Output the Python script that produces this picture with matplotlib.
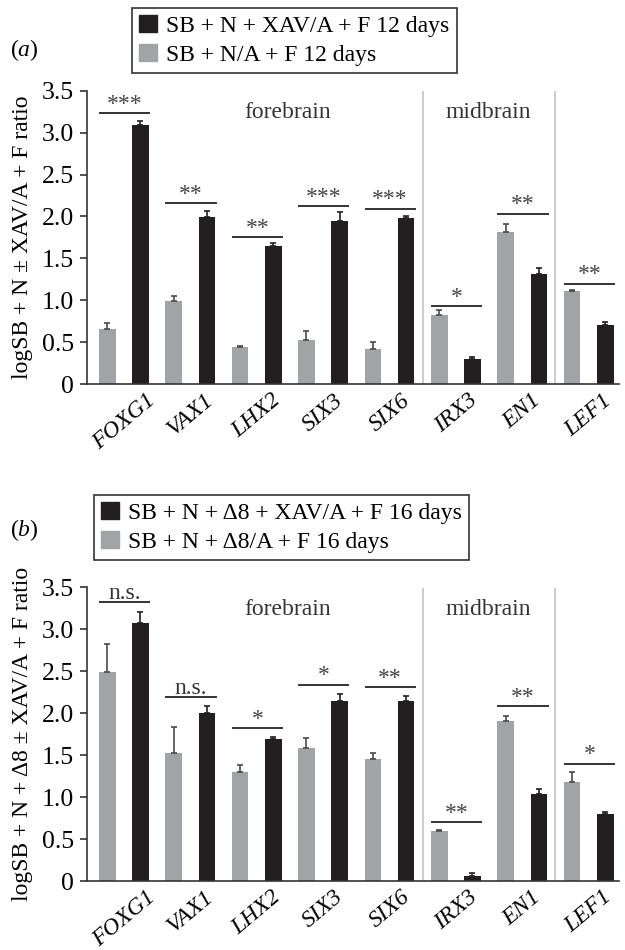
import numpy as np
import matplotlib
matplotlib.use("Agg")
from matplotlib import pyplot as plt
from matplotlib.patches import Patch

plt.rcParams["font.family"] = ["Liberation Serif", "DejaVu Serif"]
plt.rcParams["mathtext.fontset"] = "custom"
plt.rcParams["mathtext.rm"] = "Liberation Serif"
plt.rcParams["mathtext.it"] = "Liberation Serif:italic"
plt.rcParams["font.size"] = 17

# genes on the x axis
genes = ["FOXG1", "VAX1", "LHX2", "SIX3", "SIX6", "IRX3", "EN1", "LEF1"]

# panel (a): 12 days
a_grey = [0.66, 0.99, 0.45, 0.53, 0.42, 0.82, 1.82, 1.11]
a_grey_err = [0.07, 0.06, 0.01, 0.10, 0.08, 0.06, 0.09, 0.015]
a_black = [3.09, 1.99, 1.65, 1.95, 1.98, 0.30, 1.31, 0.71]
a_black_err = [0.05, 0.08, 0.03, 0.10, 0.02, 0.02, 0.07, 0.03]
a_sig = ["***", "**", "**", "***", "***", "*", "**", "**"]
a_sig_y = [3.23, 2.16, 1.75, 2.12, 2.09, 0.93, 2.03, 1.20]

# panel (b): 16 days
b_grey = [2.49, 1.53, 1.30, 1.58, 1.45, 0.60, 1.91, 1.18]
b_grey_err = [0.33, 0.31, 0.08, 0.12, 0.07, 0.005, 0.06, 0.12]
b_black = [3.07, 2.00, 1.69, 2.15, 2.15, 0.06, 1.04, 0.80]
b_black_err = [0.14, 0.08, 0.03, 0.08, 0.06, 0.04, 0.06, 0.02]
b_sig = ["n.s.", "n.s.", "*", "*", "**", "**", "**", "*"]
b_sig_y = [3.32, 2.19, 1.82, 2.34, 2.31, 0.70, 2.085, 1.40]

yticks = [0, 0.5, 1.0, 1.5, 2.0, 2.5, 3.0, 3.5]
ytick_labels = ["0", "0.5", "1.0", "1.5", "2.0", "2.5", "3.0", "3.5"]

GREY = "#a1a4a6"
BLACK = "#231f20"
DARK = "#333333"


def panel(ax, grey, grey_err, black, black_err, sig, sig_y, ylabel):
    x = np.arange(len(genes))
    n = len(genes)
    ax.bar(x - 0.25, grey, width=0.25, color=GREY, zorder=2)
    ax.bar(x + 0.25, black, width=0.25, color=BLACK, zorder=2)
    ax.errorbar(x - 0.25, grey, yerr=[np.zeros(n), grey_err], fmt="none",
                ecolor="#4a4a4a", elinewidth=1.2, capsize=2.5, capthick=1.2, zorder=3)
    ax.errorbar(x + 0.25, black, yerr=[np.zeros(n), black_err], fmt="none",
                ecolor=BLACK, elinewidth=1.2, capsize=2.5, capthick=1.2, zorder=3)

    # significance marks
    for i in range(n):
        ax.plot([x[i] - 0.36, x[i] + 0.38], [sig_y[i], sig_y[i]], color=DARK, lw=1.4)
        if sig[i] == "n.s.":
            ax.annotate(sig[i], (x[i] + 0.01, sig_y[i]), xytext=(0, 3),
                        textcoords="offset pixels", ha="center", va="baseline",
                        color=DARK)
        else:
            ax.annotate(sig[i], (x[i] + 0.01, sig_y[i]), xytext=(0, 9),
                        textcoords="offset pixels", ha="center", va="center",
                        color="#444444")

    # region dividers
    ax.vlines([4.5, 6.5], 0, 3.49, color="#c8c8c8", lw=1.3, zorder=1)
    ax.text(2.47, 3.24, "forebrain", ha="center", va="center", color=DARK)
    ax.text(5.48, 3.24, "midbrain", ha="center", va="center", color=DARK)

    ax.set_xlim(-0.56, 7.45)
    ax.set_ylim(0, 3.5)
    ax.set_yticks(yticks)
    ax.set_yticklabels(ytick_labels)
    ax.set_xticks(x)
    ax.set_xticklabels(genes, rotation=40, ha="center", va="top", style="italic")
    ax.tick_params(axis="x", length=0, pad=4)
    ax.tick_params(axis="y", length=5, width=1.2, color=DARK, pad=4, labelsize=18.5)
    for s in ["top", "right"]:
        ax.spines[s].set_visible(False)
    for s in ["left", "bottom"]:
        ax.spines[s].set_color(DARK)
        ax.spines[s].set_linewidth(1.2)
    ax.set_ylabel(ylabel)
    ax.yaxis.set_label_coords(-0.1, 0.5)


fig = plt.figure(figsize=(6.25, 9.5), dpi=100)
ax1 = fig.add_axes([0.1387, 0.5955, 0.851, 0.3091])
ax2 = fig.add_axes([0.1387, 0.0726, 0.851, 0.3092])

panel(ax1, a_grey, a_grey_err, a_black, a_black_err, a_sig, a_sig_y,
      "logSB + N ± XAV/A + F ratio")
panel(ax2, b_grey, b_grey_err, b_black, b_black_err, b_sig, b_sig_y,
      "logSB + N + Δ8 ± XAV/A + F ratio")

# legends
leg_a = [Patch(color=BLACK, label="SB + N + XAV/A + F 12 days"),
         Patch(color=GREY, label="SB + N/A + F 12 days")]
leg_b = [Patch(color=BLACK, label="SB + N + Δ8 + XAV/A + F 16 days"),
         Patch(color=GREY, label="SB + N + Δ8/A + F 16 days")]
for ax, handles, left, top in [(ax1, leg_a, 132 / 625, 1 - 8 / 950),
                               (ax2, leg_b, 94 / 625, 1 - 495 / 950)]:
    lg = ax.legend(handles=handles, loc="upper left", bbox_to_anchor=(left, top),
                   bbox_transform=fig.transFigure, borderaxespad=0, fancybox=False,
                   framealpha=1, edgecolor=DARK, handlelength=0.75, handleheight=0.75,
                   handletextpad=0.4, labelspacing=0.3, borderpad=0.3, fontsize=17)
    lg.get_frame().set_linewidth(1.2)

fig.text(10 / 625, 1 - 50 / 950, r"($\mathit{a}$)", ha="left", va="center")
fig.text(10 / 625, 1 - 530 / 950, r"($\mathit{b}$)", ha="left", va="center")

fig.savefig("out.png", dpi=100)
